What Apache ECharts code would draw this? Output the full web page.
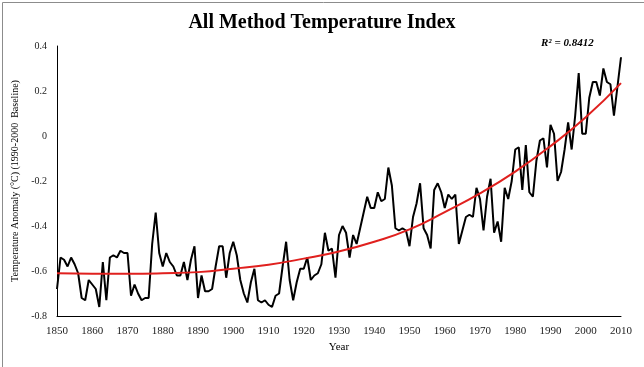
<!DOCTYPE html>
<html>
<head>
<meta charset="utf-8">
<script src="https://cdn.jsdelivr.net/npm/echarts@6/dist/echarts.min.js"></script>
<style>
html,body{margin:0;padding:0;background:#fff;}
#chart{width:644px;height:367px;}
</style>
</head>
<body>
<div id="chart"></div>
<script>
// Years 1850..2010
const startYear = 1850;
const endYear = 2010;
// Annual anomaly values, per decade
const v1850s = [-0.68,-0.54,-0.55,-0.58,-0.54,-0.57,-0.61,-0.72,-0.73,-0.64];
const v1860s = [-0.66,-0.68,-0.76,-0.56,-0.73,-0.54,-0.53,-0.54,-0.51,-0.52];
const v1870s = [-0.52,-0.71,-0.66,-0.70,-0.73,-0.72,-0.72,-0.48,-0.34,-0.52];
const v1880s = [-0.58,-0.52,-0.56,-0.58,-0.62,-0.62,-0.56,-0.64,-0.55,-0.49];
const v1890s = [-0.72,-0.62,-0.69,-0.69,-0.68,-0.58,-0.49,-0.49,-0.63,-0.52];
const v1900s = [-0.47,-0.53,-0.64,-0.70,-0.74,-0.65,-0.59,-0.73,-0.74,-0.73];
const v1910s = [-0.75,-0.76,-0.71,-0.70,-0.58,-0.47,-0.64,-0.73,-0.65,-0.59];
const v1920s = [-0.59,-0.54,-0.64,-0.62,-0.61,-0.57,-0.43,-0.51,-0.50,-0.63];
const v1930s = [-0.44,-0.40,-0.43,-0.54,-0.44,-0.48,-0.41,-0.34,-0.27,-0.32];
const v1940s = [-0.32,-0.25,-0.29,-0.28,-0.14,-0.22,-0.41,-0.42,-0.41,-0.42];
const v1950s = [-0.49,-0.36,-0.30,-0.21,-0.41,-0.44,-0.50,-0.24,-0.21,-0.25];
const v1960s = [-0.32,-0.26,-0.28,-0.26,-0.48,-0.42,-0.36,-0.35,-0.36,-0.23];
const v1970s = [-0.28,-0.42,-0.27,-0.19,-0.43,-0.38,-0.47,-0.23,-0.28,-0.20];
const v1980s = [-0.06,-0.05,-0.24,-0.04,-0.25,-0.27,-0.11,-0.02,-0.01,-0.14];
const v1990s = [0.05,0.01,-0.20,-0.16,-0.06,0.06,-0.06,0.09,0.28,0.01];
const v2000s = [0.01,0.17,0.24,0.24,0.18,0.30,0.24,0.23,0.09,0.22];
const v2010s = [0.35];

// Polynomial trend line, every 10 years
const trendYears = [1850,1860,1870,1880,1890,1900,1910,1920,1930,1940,1950,1960,1970,1980,1990,2000,2010];
const trendValues = [-0.61,-0.612,-0.612,-0.61,-0.605,-0.59,-0.572,-0.545,-0.513,-0.47,-0.415,-0.338,-0.255,-0.158,-0.045,0.083,0.235];

const titleText = 'All Method Temperature Index';
const r2Text = 'R\u00b2 = 0.8412';
const yAxisTitle = 'Temperature Anomaly (\u00b0C) (1990-2000  Baseline)';
const xAxisTitle = 'Year';

const annual = [].concat(v1850s,v1860s,v1870s,v1880s,v1890s,v1900s,v1910s,v1920s,v1930s,v1940s,v1950s,v1960s,v1970s,v1980s,v1990s,v2000s,v2010s);
const lineData = annual.map((v,i)=>[startYear+i, v]);
const trendData = trendYears.map((y,i)=>[y, trendValues[i]]);

const serif = '"Liberation Serif", "Times New Roman", serif';
const chart = echarts.init(document.getElementById('chart'), null, {renderer:'canvas'});
chart.setOption({
  backgroundColor:'#fff',
  animation:false,
  title:{
    text:titleText, left:'center', top:8,
    textStyle:{fontFamily:serif, fontSize:20, fontWeight:'bold', color:'#000'}
  },
  grid:{left:57, right:23, top:46, bottom:51, containLabel:false},
  xAxis:{
    type:'value', min:startYear, max:endYear, interval:10,
    name:xAxisTitle, nameLocation:'middle', nameGap:23,
    nameTextStyle:{fontFamily:serif, fontSize:11, color:'#000'},
    axisLine:{show:true, onZero:false, lineStyle:{color:'#000', width:1}},
    axisTick:{show:false},
    splitLine:{show:false},
    axisLabel:{fontFamily:serif, fontSize:11, color:'#222', margin:10, formatter:v=>String(v)}
  },
  yAxis:{
    type:'value', min:-0.8, max:0.4, interval:0.2,
    name:yAxisTitle, nameLocation:'middle', nameGap:36, nameRotate:90,
    nameTextStyle:{fontFamily:serif, fontSize:10, color:'#000'},
    axisLine:{show:true, onZero:false, lineStyle:{color:'#000', width:1}},
    axisTick:{show:false},
    splitLine:{show:false},
    axisLabel:{fontFamily:serif, fontSize:10, color:'#222', margin:10,
      formatter:v=>{const r=Math.round(v*10)/10; return r===0?'0':String(r);}}
  },
  graphic:[
    {type:'rect', left:0, top:0, shape:{x:0.5,y:0.5,width:642,height:365}, style:{fill:'none', stroke:'#8c8c8c', lineWidth:1}, silent:true},
    {type:'text', left:541, top:38, style:{text:r2Text, font:'italic bold 11px '+serif, fill:'#000'}}
  ],
  series:[
    {type:'line', data:lineData, showSymbol:false, lineStyle:{color:'#000', width:2}, z:2},
    {type:'line', data:trendData, smooth:true, showSymbol:false, lineStyle:{color:'#e0201e', width:2}, z:3}
  ]
});
</script>
</body>
</html>
